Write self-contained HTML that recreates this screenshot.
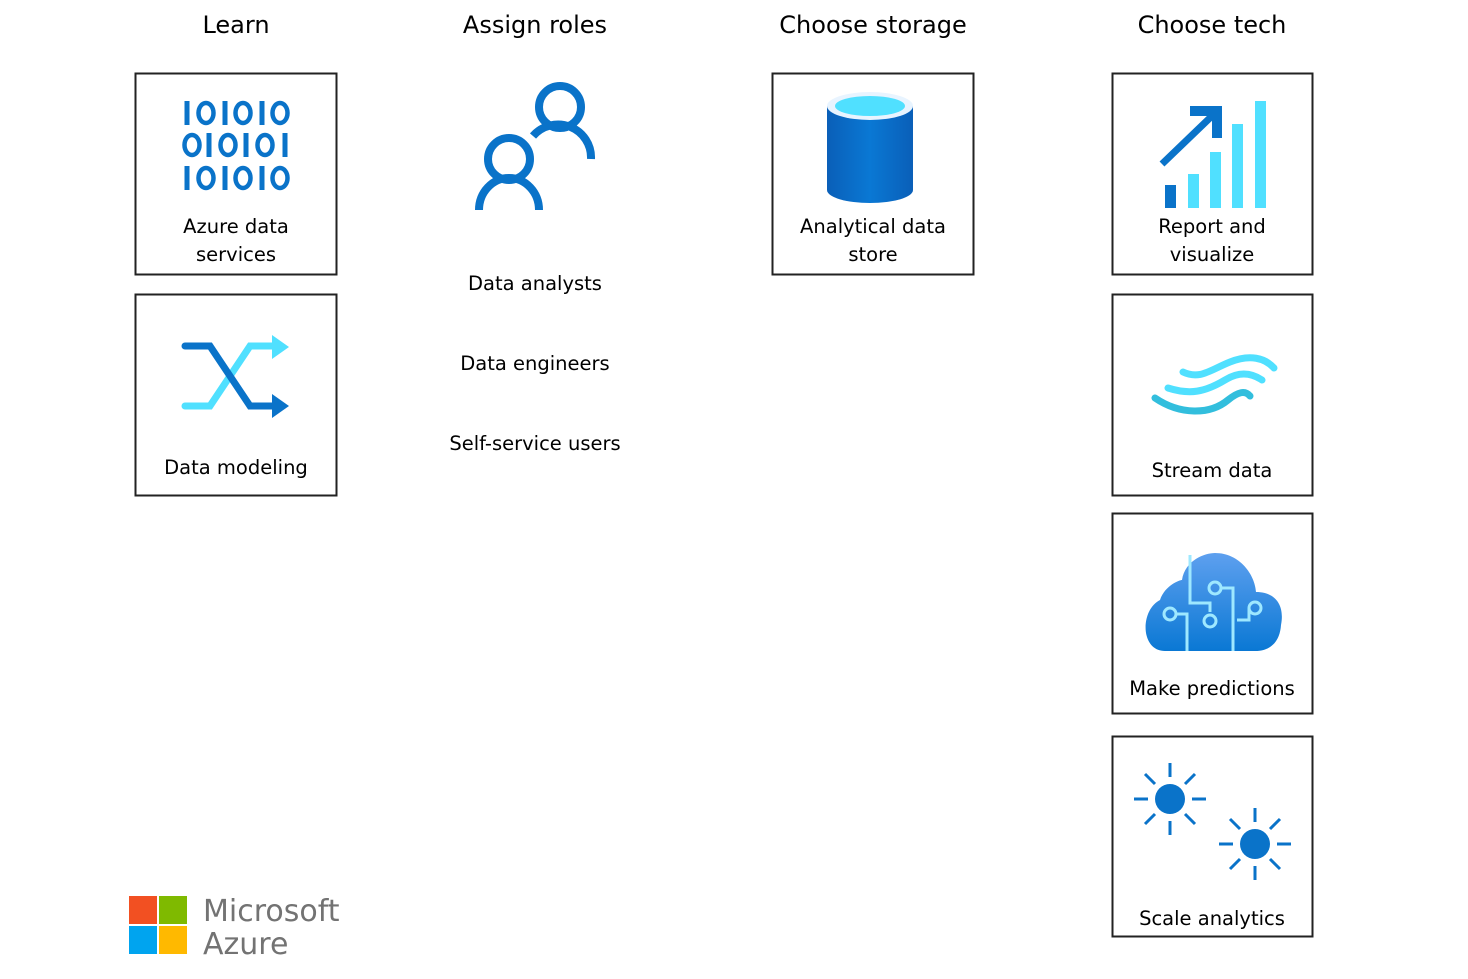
<!DOCTYPE html>
<html><head><meta charset="utf-8"><style>
html,body{margin:0;padding:0;background:#fff;width:1468px;height:979px;overflow:hidden}
svg{display:block}
text{font-family:"DejaVu Sans","Liberation Sans",sans-serif;fill:#000}
.h{font-size:24px;font-weight:500}
.l{font-size:19.5px}
</style></head><body>
<svg width="1468" height="979" viewBox="0 0 1468 979" xmlns="http://www.w3.org/2000/svg">
<defs>
<g id="one"><rect x="-2.5" y="-12" width="5" height="24" fill="#0a73c9"/></g>
<g id="zero"><ellipse cx="0" cy="0" rx="7.5" ry="10" fill="none" stroke="#0a73c9" stroke-width="4.5"/></g>
</defs>
<g text-anchor="middle">
<text class="h" x="236" y="33">Learn</text>
<text class="h" x="535" y="33">Assign roles</text>
<text class="h" x="873" y="33">Choose storage</text>
<text class="h" x="1212" y="33">Choose tech</text>
</g>
<g fill="none" stroke="#222" stroke-width="2">
<rect x="135.5" y="73.5" width="201" height="201"/>
<rect x="135.5" y="294.5" width="201" height="201"/>
<rect x="772.5" y="73.5" width="201" height="201"/>
<rect x="1112.5" y="73.5" width="200" height="201"/>
<rect x="1112.5" y="294.5" width="200" height="201"/>
<rect x="1112.5" y="513.5" width="200" height="200"/>
<rect x="1112.5" y="736.5" width="200" height="200"/>
</g>
<!-- binary -->
<g transform="translate(0,113)">
<use href="#one" x="187"/><use href="#zero" x="206"/><use href="#one" x="225"/><use href="#zero" x="243"/><use href="#one" x="262"/><use href="#zero" x="280"/>
</g>
<g transform="translate(0,145)">
<use href="#zero" x="192"/><use href="#one" x="209"/><use href="#zero" x="228"/><use href="#one" x="246"/><use href="#zero" x="265"/><use href="#one" x="285"/>
</g>
<g transform="translate(0,178)">
<use href="#one" x="187"/><use href="#zero" x="206"/><use href="#one" x="225"/><use href="#zero" x="243"/><use href="#one" x="262"/><use href="#zero" x="280"/>
</g>
<g text-anchor="middle">
<text class="l" x="236" y="233">Azure data</text>
<text class="l" x="236" y="261">services</text>
<text class="l" x="236" y="474">Data modeling</text>
<text class="l" x="535" y="290">Data analysts</text>
<text class="l" x="535" y="370">Data  engineers</text>
<text class="l" x="535" y="450">Self-service users</text>
<text class="l" x="873" y="233">Analytical data</text>
<text class="l" x="873" y="261">store</text>
<text class="l" x="1212" y="233">Report and</text>
<text class="l" x="1212" y="261">visualize</text>
<text class="l" x="1212" y="477">Stream data</text>
<text class="l" x="1212" y="695">Make predictions</text>
<text class="l" x="1212" y="925">Scale analytics</text>
</g>
<!-- shuffle -->
<g fill="none" stroke-width="7" stroke-linecap="round">
<path d="M185 406 H210 L250 346 H272" stroke="#50e0ff"/>
<path d="M185 346 H210 L250 406 H272" stroke="#0a73c9"/>
</g>
<polygon points="272,335 289,347 272,359" fill="#50e0ff"/>
<polygon points="272,394 289,406 272,418" fill="#0a73c9"/>
<!-- people -->
<g fill="none" stroke="#0a73c9" stroke-width="8">
<circle cx="560" cy="107" r="21"/>
<path d="M533 136 A33 33 0 0 1 591 159"/>
<circle cx="509" cy="159" r="21"/>
<path d="M479 210 A30 32 0 0 1 539 210"/>
</g>
<!-- cylinder -->
<defs><linearGradient id="cy" x1="0" x2="1"><stop offset="0" stop-color="#0a5fb8"/><stop offset=".5" stop-color="#0a78d4"/><stop offset="1" stop-color="#0a5fb8"/></linearGradient>
<linearGradient id="cl" x1="0" y1="0" x2="0" y2="1"><stop offset="0" stop-color="#5ea0ef"/><stop offset="1" stop-color="#0a78d4"/></linearGradient></defs>
<path d="M827 106 V190 A43 13 0 0 0 913 190 V106 Z" fill="url(#cy)"/>
<ellipse cx="870" cy="106" rx="43" ry="14" fill="#e8f4ff"/>
<ellipse cx="870" cy="106" rx="35" ry="10" fill="#50e0ff"/>
<!-- chart -->
<rect x="1165" y="185" width="11" height="23" fill="#0a73c9"/>
<rect x="1188" y="174" width="11" height="34" fill="#50e0ff"/>
<rect x="1210" y="152" width="11" height="56" fill="#50e0ff"/>
<rect x="1232" y="124" width="11" height="84" fill="#50e0ff"/>
<rect x="1255" y="101" width="11" height="107" fill="#50e0ff"/>
<path d="M1162 164 L1214 114" stroke="#0a73c9" stroke-width="7"/>
<polygon points="1190,106 1222,106 1222,138 1212,138 1212,116 1190,116" fill="#0a73c9"/>
<!-- stream -->
<g fill="none" stroke-linecap="round" stroke-width="7">
<path d="M1183 372 C1200 380 1210 370 1230 362 C1250 354 1265 358 1274 368" stroke="#50e0ff"/>
<path d="M1168 388 C1190 395 1205 392 1225 380 C1238 372 1250 372 1262 380" stroke="#50e0ff"/>
<path d="M1155 398 C1180 415 1210 415 1228 400 C1238 392 1245 390 1250 396" stroke="#32bedd"/>
</g>
<!-- cloud -->
<path d="M1165 651 C1140 651 1140 610 1160 600 C1165 585 1180 580 1182 580 C1185 560 1205 553 1215 553 C1240 553 1255 575 1256 592 C1275 592 1285 605 1281 625 C1280 640 1272 651 1255 651 Z" fill="url(#cl)"/>
<g fill="none" stroke="#9ee8ff" stroke-width="3">
<path d="M1190 555 V603 H1210 V612"/><circle cx="1210" cy="621" r="6"/>
<circle cx="1215" cy="588" r="6"/><path d="M1221 588 H1233 V651"/>
<circle cx="1170" cy="614" r="6"/><path d="M1176 614 H1187 V651"/>
<circle cx="1255" cy="608" r="6"/><path d="M1249 608 V620 H1237"/>
</g>
<!-- suns -->
<g fill="#0a73c9"><circle cx="1170" cy="799" r="15"/><circle cx="1255" cy="844" r="15"/></g>
<g stroke="#0a73c9" stroke-width="3">
<path d="M1170 763 V777 M1170 821 V835 M1134 799 H1148 M1192 799 H1206 M1145 774 L1155 784 M1185 814 L1195 824 M1195 774 L1185 784 M1155 814 L1145 824"/>
<path d="M1255 808 V822 M1255 866 V880 M1219 844 H1233 M1277 844 H1291 M1230 819 L1240 829 M1270 859 L1280 869 M1280 819 L1270 829 M1240 859 L1230 869"/>
</g>
<!-- ms logo -->
<rect x="129" y="896" width="28" height="28" fill="#f25022"/>
<rect x="159" y="896" width="28" height="28" fill="#7fba00"/>
<rect x="129" y="926" width="28" height="28" fill="#00a4ef"/>
<rect x="159" y="926" width="28" height="28" fill="#ffb900"/>
<text x="203" y="921" style="font-size:30px;fill:#737373">Microsoft</text>
<text x="203" y="954" style="font-size:30px;fill:#737373">Azure</text>
</svg>
</body></html>
